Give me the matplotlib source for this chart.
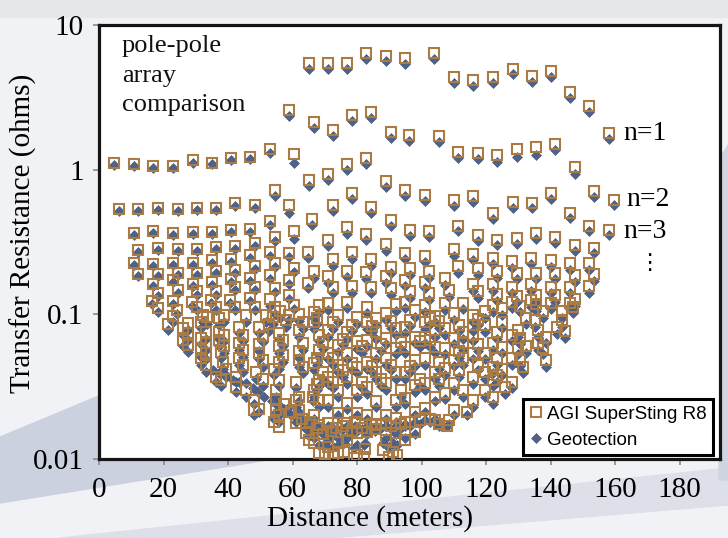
import matplotlib
matplotlib.use('Agg')
import matplotlib.pyplot as plt
from matplotlib.patches import Polygon, Rectangle
from matplotlib.lines import Line2D
from matplotlib.ticker import NullLocator, FixedLocator

# ---------------- data (distance in m, transfer resistance in ohms) ----------------
# upper arcs (right spread)
arcT_x = [65.0, 70.9, 76.9, 82.9, 88.9, 95.0, 103.8, 110.0, 116.0, 122.1, 128.2, 134.1, 140.1, 146.0, 152.0, 158.1]
arcT_agi = [5.5, 5.5, 5.5, 6.4, 6.1, 5.9, 6.4, 4.35, 4.17, 4.35, 5.0, 4.46, 4.81, 3.46, 2.75, 1.78]
arcT_geo = [5.0, 5.0, 5.0, 5.8, 5.6, 5.4, 5.8, 3.95, 3.8, 3.95, 4.55, 4.05, 4.35, 3.15, 2.5, 1.62]

arc2_x = [59.0, 66.5, 72.4, 78.4, 84.4, 90.5, 96.2, 105.4, 111.4, 117.4, 123.4, 129.5, 135.5, 141.4, 147.4, 153.5, 159.6]
arc2_agi = [2.6, 2.15, 1.88, 2.39, 2.5, 1.83, 1.73, 1.71, 1.33, 1.30, 1.27, 1.38, 1.44, 1.50, 1.04, 0.715, 0.62]
arc2_geo = [2.35, 1.95, 1.7, 2.17, 2.27, 1.66, 1.57, 1.55, 1.21, 1.18, 1.13, 1.22, 1.27, 1.36, 0.94, 0.65, 0.57]

arc3_x = [54.5, 65.0, 70.9, 76.9, 82.9, 88.9, 95.0, 101.0, 110.0, 116.0, 122.1, 128.2, 134.1, 140.1, 146.0, 151.9, 158.0]
arc3_agi = [0.72, 0.85, 0.94, 1.10, 1.20, 0.84, 0.72, 0.67, 0.62, 0.66, 0.50, 0.595, 0.59, 0.69, 0.505, 0.41, 0.385]
arc3_geo = [0.655, 0.77, 0.855, 1.0, 1.09, 0.76, 0.655, 0.61, 0.565, 0.60, 0.455, 0.54, 0.54, 0.63, 0.46, 0.375, 0.355]

arc4_x = [59.0, 65.9, 72.4, 78.3, 84.3, 90.5, 96.5, 102.4, 111.4, 117.4, 123.4, 129.5, 135.5, 141.5, 147.4, 153.4]
arc4_agi = [0.57, 0.455, 0.57, 0.69, 0.555, 0.449, 0.385, 0.377, 0.41, 0.354, 0.326, 0.335, 0.365, 0.342, 0.30, 0.289]
arc4_geo = [0.50, 0.415, 0.52, 0.63, 0.505, 0.41, 0.35, 0.345, 0.375, 0.32, 0.30, 0.305, 0.33, 0.31, 0.275, 0.265]

arc5_x = [64.9, 70.9, 76.9, 82.8, 89.0, 95.0, 101.0, 110.0, 115.9, 122.1, 128.1, 134.0, 140.0, 145.9, 151.9]
arc5_agi = [0.27, 0.326, 0.40, 0.36, 0.305, 0.267, 0.253, 0.283, 0.262, 0.247, 0.233, 0.247, 0.237, 0.225, 0.225]
arc5_geo = [0.245, 0.295, 0.36, 0.325, 0.275, 0.24, 0.23, 0.255, 0.236, 0.222, 0.21, 0.222, 0.213, 0.203, 0.203]

arc6_x = [72.4, 78.3, 84.3, 90.5, 96.5, 102.4, 107.1, 111.4, 117.4, 123.4, 129.5, 135.5, 141.5, 147.4, 153.4]
arc6_agi = [0.24, 0.268, 0.241, 0.213, 0.208, 0.198, 0.177, 0.216, 0.209, 0.198, 0.194, 0.194, 0.194, 0.186, 0.19]
arc6_geo = [0.216, 0.241, 0.217, 0.192, 0.187, 0.178, 0.159, 0.194, 0.188, 0.178, 0.175, 0.175, 0.175, 0.167, 0.171]

arc7_x = [66.7, 70.9, 76.9, 82.8, 89.0, 95.0, 101.0, 108.4, 115.9, 122.1, 128.1, 134.0, 140.0, 145.9, 151.9]
arc7_agi = [0.199, 0.183, 0.2, 0.195, 0.183, 0.173, 0.168, 0.147, 0.161, 0.161, 0.155, 0.161, 0.155, 0.155, 0.157]
arc7_geo = [0.179, 0.165, 0.18, 0.176, 0.165, 0.156, 0.151, 0.132, 0.145, 0.145, 0.14, 0.145, 0.14, 0.14, 0.141]

arc8_x = [72.4, 78.3, 84.3, 90.5, 96.5, 102.4, 117.4, 123.4, 129.5, 135.5, 141.5, 147.4]
arc8_agi = [0.155, 0.157, 0.155, 0.152, 0.144, 0.14, 0.144, 0.138, 0.134, 0.136, 0.136, 0.127]
arc8_geo = [0.14, 0.141, 0.14, 0.137, 0.13, 0.126, 0.13, 0.124, 0.121, 0.122, 0.122, 0.114]

# left spread, level rows
row1_x = [4.7, 10.8, 16.8, 22.9, 29.0, 34.9, 40.9, 46.9, 53.0, 60.5]
row1_agi = [1.11, 1.09, 1.06, 1.06, 1.16, 1.12, 1.21, 1.23, 1.38, 1.29]
row1_geo = [1.08, 1.06, 1.03, 1.03, 1.12, 1.09, 1.16, 1.18, 1.31, 1.11]
row2_x = [6.2, 12.2, 18.4, 24.5, 30.3, 36.3, 42.3, 48.3, 52.9]
row2_agi = [0.535, 0.535, 0.54, 0.533, 0.54, 0.54, 0.585, 0.57, 0.44]
row2_geo = [0.52, 0.52, 0.525, 0.52, 0.525, 0.525, 0.56, 0.545, 0.415]
row3_x = [10.8, 16.8, 22.9, 29.0, 34.9, 40.9, 46.9, 54.5, 60.5]
row3_agi = [0.365, 0.377, 0.365, 0.37, 0.37, 0.383, 0.389, 0.34, 0.375]
row3_geo = [0.355, 0.365, 0.355, 0.36, 0.36, 0.37, 0.37, 0.32, 0.33]
row4_x = [12.2, 18.4, 24.5, 30.3, 36.3, 42.3, 48.3, 52.9, 59.0]
row4_agi = [0.278, 0.286, 0.282, 0.282, 0.291, 0.295, 0.31, 0.27, 0.265]
row4_geo = [0.27, 0.278, 0.274, 0.274, 0.282, 0.285, 0.295, 0.255, 0.25]
row5_x = [10.8, 16.8, 22.9, 29.0, 34.9, 40.9, 46.9, 54.5, 60.5]
row5_agi = [0.225, 0.223, 0.227, 0.227, 0.237, 0.24, 0.257, 0.226, 0.208]
row5_geo = [0.218, 0.216, 0.22, 0.22, 0.228, 0.23, 0.245, 0.212, 0.195]
row6_x = [12.2, 18.4, 24.5, 30.3, 36.3, 42.3, 48.3, 52.9, 59.0]
row6_agi = [0.19, 0.19, 0.192, 0.194, 0.199, 0.202, 0.216, 0.186, 0.173]
row6_geo = [0.184, 0.184, 0.186, 0.188, 0.192, 0.194, 0.205, 0.175, 0.163]
row7_x = [16.8, 22.9, 29.0, 34.9, 40.9, 46.9, 54.5, 64.9]
row7_agi = [0.162, 0.173, 0.163, 0.166, 0.175, 0.179, 0.151, 0.164]
row7_geo = [0.156, 0.166, 0.157, 0.16, 0.167, 0.17, 0.142, 0.153]
row8_x = [18.4, 24.5, 30.3, 36.3, 42.3, 48.3, 59.0]
row8_agi = [0.14, 0.148, 0.144, 0.144, 0.155, 0.155, 0.136]
row8_geo = [0.134, 0.141, 0.137, 0.137, 0.147, 0.147, 0.127]
row9_x = [16.5, 22.8, 28.7, 34.7, 40.7, 46.7, 60.5]
row9_agi = [0.123, 0.123, 0.121, 0.126, 0.126, 0.13, 0.116]
row9_geo = [0.117, 0.117, 0.115, 0.12, 0.12, 0.123, 0.108]
row10_x = [18.4, 24.3, 30.3, 36.3, 42.3, 48.3, 59.0]
row10_agi = [0.11, 0.107, 0.113, 0.113, 0.113, 0.113, 0.099]
row10_geo = [0.104, 0.101, 0.107, 0.107, 0.107, 0.107, 0.092]

# deep levels (vertical stacks)
dense_x = [
    27.5, 26.0, 27.5, 26.0, 27.5, 23.0, 21.4,
    32.1, 33.6, 31.6, 33.1, 31.6, 33.1, 31.6, 33.1, 31.6, 33.1,
    37.2, 38.8, 37.2, 38.8, 37.2, 38.8, 37.8, 38.3, 39.3, 36.2, 37.8,
    45.5, 43.5, 44.5, 43.5, 44.5, 43.5, 44.5, 42.4, 42.4, 45.5,
    51.7, 53.8, 52.8, 49.7, 50.7, 49.7, 49.7, 50.7, 48.6, 50.7, 48.1, 49.7, 48.1,
    57.9, 55.9, 56.9, 55.9, 56.9, 55.9, 54.3, 55.9, 54.8, 54.8, 54.8, 55.9, 54.3, 55.9,
    53.0, 54.5, 56.0,
    62.1, 63.1, 62.1, 63.1, 62.1, 62.1, 63.1, 61.0, 62.1, 61.0, 62.1, 61.0, 64.2, 65.2, 66.2,
    68.3, 66.8, 66.8, 68.3, 68.3, 66.8, 68.3, 66.8, 68.3, 66.8, 68.3, 66.8, 68.3,
    70.9, 74.0, 70.9, 74.0, 70.9, 74.0, 70.9, 74.0, 70.9, 74.0, 70.9, 74.0, 70.9, 74.0,
    77.0, 80.0, 77.0, 80.0, 77.0, 80.0, 77.0, 80.0, 77.0, 80.0, 77.0, 80.0, 77.0, 80.0,
    86.0, 83.0, 83.0, 86.0, 83.0, 86.0, 83.0, 86.0, 83.0, 86.0, 83.0, 86.0, 83.0, 82.0,
    92.0, 89.0, 92.0, 89.0, 92.0, 89.0, 92.0, 89.0, 92.0, 89.0, 92.0, 89.0, 92.0, 89.0, 91.0, 92.5,
    95.0, 98.0, 95.0, 98.0, 95.0, 98.0, 95.0, 98.0, 95.0, 98.0, 95.0, 98.0, 95.0,
    101.0, 104.0, 101.0, 104.0, 101.0, 104.0, 101.0, 104.0, 101.0, 104.0, 101.0, 104.0,
    107.1, 110.0, 107.1, 110.0, 107.1, 110.0, 107.1, 110.0, 107.1, 110.0, 108.0,
    112.7, 116.0, 116.0, 112.7, 116.0, 112.7, 116.0, 112.7, 116.0, 112.7, 116.0, 114.0,
    119.5, 122.0, 119.5, 122.0, 119.5, 122.0, 119.5, 122.0, 119.5, 122.0,
    124.8, 128.0, 124.8, 128.0, 124.8, 128.0, 124.8, 128.0, 126.0,
    130.5, 129.8, 130.5, 129.8, 130.5, 131.5, 135.5, 135.0, 136.0, 136.0, 137.5, 142.0, 143.5,
    140.0, 146.0, 134.0, 137.5, 143.5, 144.3, 147.0,
]
dense_agi = [
    0.087, 0.080, 0.074, 0.0665, 0.061, 0.097, 0.086,
    0.099, 0.096, 0.089, 0.076, 0.069, 0.063, 0.057, 0.054, 0.050, 0.0447,
    0.094, 0.099, 0.076, 0.072, 0.0665, 0.060, 0.055, 0.047, 0.042, 0.037, 0.035,
    0.099, 0.082, 0.072, 0.0634, 0.0567, 0.050, 0.0447, 0.037, 0.0315, 0.030,
    0.099, 0.096, 0.086, 0.082, 0.071, 0.062, 0.054, 0.048, 0.040, 0.036, 0.0256, 0.0222, 0.0218,
    0.0914, 0.074, 0.0665, 0.060, 0.052, 0.047, 0.042, 0.035, 0.030, 0.026, 0.0218, 0.0201, 0.0181, 0.0167,
    0.128, 0.112, 0.105,
    0.100, 0.088, 0.078, 0.063, 0.056, 0.048, 0.043, 0.034, 0.027, 0.0256, 0.0218, 0.0176, 0.0151, 0.0135, 0.027,
    0.116, 0.104, 0.088, 0.072, 0.0567, 0.046, 0.0352, 0.030, 0.0256, 0.0201, 0.0172, 0.0129, 0.011,
    0.119, 0.099, 0.078, 0.0614, 0.0541, 0.0447, 0.037, 0.030, 0.0256, 0.0208, 0.0177, 0.0131, 0.0122, 0.011,
    0.122, 0.096, 0.0755, 0.065, 0.0541, 0.0433, 0.037, 0.030, 0.0244, 0.0208, 0.0177, 0.0151, 0.0135, 0.0107,
    0.095, 0.113, 0.088, 0.0755, 0.0665, 0.0541, 0.047, 0.040, 0.0315, 0.025, 0.0201, 0.0172, 0.0154, 0.0103,
    0.118, 0.102, 0.0804, 0.0686, 0.0585, 0.050, 0.040, 0.0335, 0.0256, 0.0201, 0.0192, 0.0177, 0.0151, 0.0135, 0.0112, 0.0107,
    0.122, 0.107, 0.082, 0.070, 0.0595, 0.0484, 0.040, 0.0325, 0.0265, 0.0211, 0.018, 0.0154, 0.0135,
    0.116, 0.098, 0.088, 0.078, 0.070, 0.0595, 0.050, 0.040, 0.0335, 0.027, 0.0225, 0.0186,
    0.119, 0.102, 0.0804, 0.0686, 0.0585, 0.0484, 0.0426, 0.0335, 0.0287, 0.0218, 0.0168,
    0.120, 0.099, 0.085, 0.0755, 0.072, 0.0634, 0.0541, 0.050, 0.037, 0.030, 0.0256, 0.0211,
    0.105, 0.116, 0.0845, 0.0634, 0.0541, 0.0433, 0.040, 0.0352, 0.030, 0.0269,
    0.110, 0.122, 0.0885, 0.072, 0.0595, 0.050, 0.042, 0.034, 0.0315,
    0.115, 0.078, 0.0686, 0.0585, 0.0484, 0.0433, 0.118, 0.0914, 0.078, 0.0634, 0.0585, 0.0815, 0.0914,
    0.120, 0.120, 0.125, 0.105, 0.105, 0.077, 0.113,
]
dense_geo = [
    0.078, 0.072, 0.066, 0.060, 0.055, 0.088, 0.078,
    0.089, 0.086, 0.080, 0.068, 0.062, 0.057, 0.051, 0.049, 0.045, 0.040,
    0.085, 0.089, 0.068, 0.065, 0.060, 0.054, 0.050, 0.042, 0.038, 0.034, 0.032,
    0.089, 0.074, 0.065, 0.057, 0.051, 0.045, 0.040, 0.034, 0.029, 0.027,
    0.089, 0.086, 0.077, 0.074, 0.064, 0.056, 0.049, 0.043, 0.036, 0.032, 0.024, 0.021, 0.020,
    0.082, 0.067, 0.060, 0.054, 0.047, 0.042, 0.038, 0.032, 0.027, 0.024, 0.021, 0.020, 0.019, 0.018,
    0.115, 0.101, 0.095,
    0.090, 0.079, 0.070, 0.057, 0.050, 0.043, 0.039, 0.031, 0.025, 0.023, 0.021, 0.018, 0.016, 0.0145, 0.025,
    0.104, 0.094, 0.079, 0.065, 0.051, 0.041, 0.032, 0.027, 0.023, 0.019, 0.017, 0.014, 0.0125,
    0.107, 0.089, 0.070, 0.055, 0.049, 0.040, 0.033, 0.027, 0.023, 0.020, 0.017, 0.014, 0.0135, 0.0125,
    0.110, 0.086, 0.068, 0.058, 0.049, 0.039, 0.033, 0.027, 0.022, 0.020, 0.017, 0.0155, 0.014, 0.0125,
    0.085, 0.102, 0.079, 0.068, 0.060, 0.049, 0.042, 0.036, 0.028, 0.023, 0.019, 0.017, 0.015, 0.0125,
    0.106, 0.092, 0.072, 0.062, 0.053, 0.045, 0.036, 0.030, 0.023, 0.019, 0.018, 0.017, 0.015, 0.014, 0.013, 0.0125,
    0.110, 0.096, 0.074, 0.063, 0.054, 0.044, 0.036, 0.029, 0.024, 0.020, 0.017, 0.015, 0.014,
    0.104, 0.088, 0.079, 0.070, 0.063, 0.054, 0.045, 0.036, 0.030, 0.025, 0.021, 0.018,
    0.107, 0.092, 0.072, 0.062, 0.053, 0.044, 0.038, 0.030, 0.026, 0.020, 0.017,
    0.108, 0.089, 0.077, 0.068, 0.065, 0.057, 0.049, 0.045, 0.033, 0.027, 0.023, 0.020,
    0.095, 0.104, 0.076, 0.057, 0.049, 0.039, 0.036, 0.032, 0.027, 0.024,
    0.099, 0.110, 0.080, 0.065, 0.054, 0.045, 0.038, 0.031, 0.028,
    0.104, 0.070, 0.062, 0.053, 0.044, 0.039, 0.106, 0.082, 0.070, 0.057, 0.053, 0.073, 0.082,
    0.108, 0.108, 0.113, 0.095, 0.095, 0.069, 0.102,
]

# second sub-column of each deep stack (middle of the section)
mid_x = [
    67.5, 69.5, 67.5, 69.5, 67.5,
    72.5, 75.5, 72.5, 75.5, 72.5,
    78.5, 81.5, 78.5, 81.5,
    84.5, 87.5, 84.5, 87.5,
    90.5, 93.5, 90.5, 93.5,
    96.5, 99.5, 96.5, 99.5,
    102.5, 105.5, 102.5, 105.5, 105.5,
    111.5, 111.5, 111.5, 117.5, 117.5, 117.5, 123.5, 123.5, 123.5, 132.5, 132.5, 138.5, 138.5,
]
mid_agi = [
    0.095, 0.064, 0.050, 0.040, 0.033,
    0.088, 0.068, 0.050, 0.041, 0.034,
    0.085, 0.060, 0.046, 0.034,
    0.083, 0.062, 0.044, 0.036,
    0.090, 0.064, 0.045, 0.030,
    0.092, 0.065, 0.044, 0.036,
    0.095, 0.090, 0.066, 0.047, 0.036,
    0.085, 0.056, 0.041, 0.093, 0.062, 0.045, 0.075, 0.050, 0.038, 0.095, 0.060, 0.070, 0.048,
]
mid_geo = [
    0.086, 0.058, 0.045, 0.036, 0.030,
    0.079, 0.061, 0.045, 0.037, 0.031,
    0.077, 0.054, 0.041, 0.031,
    0.075, 0.056, 0.040, 0.032,
    0.081, 0.058, 0.041, 0.027,
    0.083, 0.059, 0.040, 0.032,
    0.086, 0.081, 0.059, 0.042, 0.032,
    0.077, 0.050, 0.037, 0.084, 0.056, 0.041, 0.068, 0.045, 0.034, 0.086, 0.054, 0.063, 0.043,
]

# bottom cluster of the deepest levels
low_x = [57.5, 59.5, 63.0, 65.5, 67.5, 69.5, 72.0, 73.5, 75.5, 78.5, 79.5, 81.5, 84.5, 85.5, 87.5,
         90.5, 93.5, 96.5, 99.5, 102.5, 105.5, 108.5, 70.0, 72.5, 76.0, 79.0, 82.5, 88.0, 90.0]
low_agi = [0.024, 0.021, 0.019, 0.018, 0.0165, 0.015, 0.0155, 0.0165, 0.017, 0.0155, 0.018, 0.0165, 0.0175, 0.016, 0.0175,
           0.017, 0.0175, 0.018, 0.0185, 0.019, 0.0175, 0.0185, 0.0108, 0.0105, 0.0112, 0.0102, 0.0118, 0.0115, 0.0103]
low_geo = [0.022, 0.020, 0.018, 0.017, 0.0158, 0.0148, 0.015, 0.016, 0.0162, 0.015, 0.017, 0.016, 0.0165, 0.0155, 0.0165,
           0.016, 0.0165, 0.017, 0.0175, 0.018, 0.0168, 0.0175, 0.0125, 0.0122, 0.0128, 0.012, 0.013, 0.0128, 0.012]

# Geotection readings along the deep diagonal bands
geo_band_x = [35.2, 37.2, 39.3, 41.4, 43.5, 45.6, 47.6, 49.4, 51.2, 53.5, 55.9, 58.2, 60.5, 62.8, 65.2,
              67.5, 70.0, 72.5, 75.0, 77.5, 80.0, 83.0, 86.0, 89.0, 92.0, 95.0, 98.0, 101.0, 104.0]
geo_band = [0.041, 0.039, 0.037, 0.0352, 0.034, 0.0335, 0.031, 0.029, 0.027, 0.025, 0.0236, 0.022, 0.020, 0.0185, 0.0172,
            0.016, 0.0157, 0.0165, 0.016, 0.0162, 0.0158, 0.017, 0.0165, 0.017, 0.0168, 0.0175, 0.018, 0.0185, 0.019]

groups = [
    (arcT_x, arcT_agi, arcT_geo), (arc2_x, arc2_agi, arc2_geo), (arc3_x, arc3_agi, arc3_geo),
    (arc4_x, arc4_agi, arc4_geo), (arc5_x, arc5_agi, arc5_geo), (arc6_x, arc6_agi, arc6_geo),
    (arc7_x, arc7_agi, arc7_geo), (arc8_x, arc8_agi, arc8_geo),
    (row1_x, row1_agi, row1_geo), (row2_x, row2_agi, row2_geo), (row3_x, row3_agi, row3_geo),
    (row4_x, row4_agi, row4_geo), (row5_x, row5_agi, row5_geo), (row6_x, row6_agi, row6_geo),
    (row7_x, row7_agi, row7_geo), (row8_x, row8_agi, row8_geo), (row9_x, row9_agi, row9_geo),
    (row10_x, row10_agi, row10_geo), (dense_x, dense_agi, dense_geo),
    (mid_x, mid_agi, mid_geo), (low_x, low_agi, low_geo),
]
for gx, ga, gg in groups:
    assert len(gx) == len(ga) == len(gg), (len(gx), len(ga), len(gg))
assert len(geo_band_x) == len(geo_band)

x_ticks = [0, 20, 40, 60, 80, 100, 120, 140, 160, 180]
y_ticks = [0.01, 0.1, 1, 10]
y_tick_labels = ['0.01', '0.1', '1', '10']

# ---------------- styling ----------------
W, H = 728, 538
SERIF = ['Liberation Serif', 'DejaVu Serif']
SANS = ['Liberation Sans', 'DejaVu Sans']
AGI_C = '#ab7b45'
GEO_C = '#4f6388'

fig = plt.figure(figsize=(W / 100, H / 100), dpi=100, facecolor='#f1f2f5')

def fp(x, y):
    return (x / W, 1 - y / H)

# slide background decoration (behind the axes)
bg = [
    Rectangle(fp(0, 17), 1, 17 / H, color='#e6e7e9'),
    Polygon([fp(0, 437), fp(330, 300), fp(330, 450), fp(0, 503)], closed=True, color='#ccd1df'),
    Polygon([fp(60, 538), fp(728, 468), fp(728, 505), fp(330, 538)], closed=True, color='#dde0e9'),
    Polygon([fp(719, 160), fp(728, 145), fp(728, 480), fp(719, 480)], closed=True, color='#cfd4e1'),
]
for p in bg:
    p.set_transform(fig.transFigure)
    p.set_zorder(-10)
    fig.patches.append(p)

ax = fig.add_axes([99 / W, 1 - 459 / H, 621 / W, 434 / H])
ax.set_zorder(1)
ax.set_facecolor('white')
ax.set_yscale('log')
ax.set_xlim(0, 192.5)
ax.set_ylim(0.01, 10)

geo_kw = dict(linestyle='none', marker='D', ms=4.7, mfc=GEO_C, mec='#41557a', mew=0.4, zorder=2)
for gx, ga, gg in groups:
    ax.plot(gx, gg, **geo_kw)
ax.plot(geo_band_x, geo_band, **geo_kw)
for gx, ga, gg in groups:
    ax.plot(gx, ga, linestyle='none', marker='s', ms=6.6, mfc='none', mec=AGI_C, mew=1.5, zorder=3)

ax.xaxis.set_major_locator(FixedLocator(x_ticks))
ax.yaxis.set_major_locator(FixedLocator(y_ticks))
ax.yaxis.set_minor_locator(NullLocator())
ax.set_xticklabels([str(t) for t in x_ticks], family=SERIF, fontsize=21)
ax.set_yticklabels(y_tick_labels, family=SERIF, fontsize=21)
ax.tick_params(axis='both', direction='out', length=4, width=1.2, color='#8a8a8a', pad=7)
ax.tick_params(axis='x', pad=9)

for s in ax.spines.values():
    s.set_linewidth(2.3)
    s.set_color('#151515')

ax.set_xlabel('Distance (meters)', family=SERIF, fontsize=21)
ax.xaxis.set_label_coords(0.436, -0.106)
ax.set_ylabel('Transfer Resistance (ohms)', family=SERIF, fontsize=21)
ax.yaxis.set_label_coords(-0.10, 0.52)

ax.text(0.037, 0.976, 'pole-pole\narray\ncomparison', transform=ax.transAxes, family=SERIF,
        fontsize=19, va='top', ha='left', linespacing=1.42, color='#111111')
ax.text(0.845, 0.751, 'n=1', transform=ax.transAxes, family=SERIF, fontsize=20, va='center', ha='left')
ax.text(0.850, 0.597, 'n=2', transform=ax.transAxes, family=SERIF, fontsize=20, va='center', ha='left')
ax.text(0.844, 0.525, 'n=3', transform=ax.transAxes, family=SERIF, fontsize=20, va='center', ha='left')
ax.text(0.886, 0.452, '\u22ee', transform=ax.transAxes, family=['DejaVu Sans'], fontsize=16,
        va='center', ha='center')

handles = [Line2D([], [], linestyle='none', marker='s', ms=7, mfc='none', mec=AGI_C, mew=1.5),
           Line2D([], [], linestyle='none', marker='D', ms=5.5, mfc=GEO_C, mec='#41557a', mew=0.4)]
leg = ax.legend(handles, ['AGI SuperSting R8', 'Geotection'], loc='lower right',
                bbox_to_anchor=(0.989, 0.009), borderaxespad=0, fancybox=False, framealpha=1,
                prop={'family': SANS, 'size': 13.5}, handlelength=0.7, handletextpad=0.25,
                borderpad=0.35, labelspacing=0.45)
leg.get_frame().set_edgecolor('black')
leg.get_frame().set_linewidth(2.2)
leg.set_zorder(5)

fig.savefig('out.png', dpi=100, facecolor=fig.get_facecolor())
